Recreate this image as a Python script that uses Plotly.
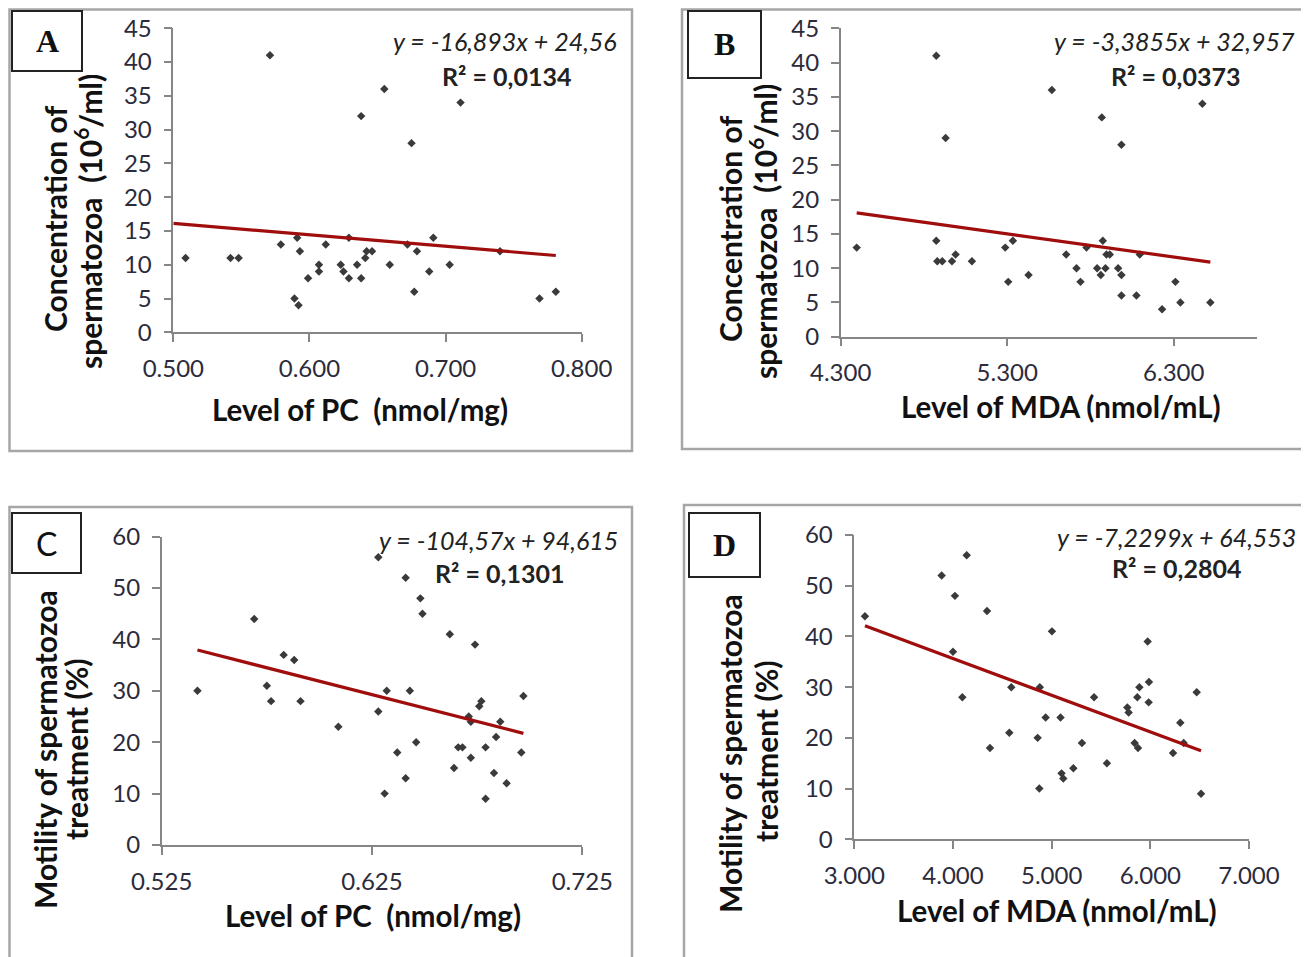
import plotly.graph_objects as go

# page body has a default 8px margin; the figure is sized so that it fills the window
OFF = 8
W, H = 1309 - OFF, 957 - OFF

# ---------------- data ----------------
A_x = [0.509, 0.542, 0.548, 0.571, 0.579, 0.591, 0.593, 0.589, 0.592, 0.599, 0.607, 0.607,
       0.612, 0.623, 0.625, 0.629, 0.629, 0.635, 0.638, 0.638, 0.641, 0.642, 0.646, 0.655,
       0.659, 0.672, 0.675, 0.677, 0.679, 0.688, 0.691, 0.703, 0.711, 0.740, 0.769, 0.781]
A_y = [11, 11, 11, 41, 13, 14, 12, 5, 4, 8, 10, 9, 13, 10, 9, 14, 8, 10, 32, 8, 11, 12, 12, 36,
       10, 13, 28, 6, 12, 9, 14, 10, 34, 12, 5, 6]

B_x = [4.396, 4.874, 4.930, 4.874, 4.880, 4.910, 4.968, 4.990, 5.088, 5.288, 5.306, 5.334,
       5.428, 5.568, 5.654, 5.716, 5.740, 5.776, 5.840, 5.862, 5.868, 5.874, 5.890, 5.896,
       5.916, 5.966, 5.986, 5.986, 5.986, 6.076, 6.096, 6.230, 6.310, 6.340, 6.472, 6.520]
B_y = [13, 41, 29, 14, 11, 11, 11, 12, 11, 13, 8, 14, 9, 36, 12, 10, 8, 13, 10, 9, 32, 14, 10, 12,
       12, 10, 9, 6, 28, 6, 12, 4, 8, 5, 34, 5]

C_x = [0.542, 0.569, 0.575, 0.577, 0.583, 0.588, 0.591, 0.609, 0.628, 0.628, 0.631, 0.632,
       0.637, 0.641, 0.641, 0.643, 0.646, 0.648, 0.649, 0.662, 0.664, 0.666, 0.668, 0.671,
       0.672, 0.672, 0.674, 0.676, 0.677, 0.679, 0.679, 0.683, 0.684, 0.686, 0.689, 0.696, 0.697]
C_y = [30, 44, 31, 28, 37, 36, 28, 23, 56, 26, 10, 30, 18, 52, 13, 30, 20, 48, 45, 41, 15, 19, 19,
       25, 24, 17, 39, 27, 28, 19, 9, 14, 21, 24, 12, 18, 29]

D_x = [3.108, 3.885, 4.020, 4.139, 4.000, 4.095, 4.345, 4.375, 4.571, 4.591, 4.858, 4.875,
       4.880, 4.939, 5.003, 5.090, 5.100, 5.118, 5.220, 5.307, 5.430, 5.560, 5.767, 5.780,
       5.841, 5.875, 5.868, 5.889, 5.973, 5.986, 5.983, 6.230, 6.304, 6.338, 6.470, 6.514]
D_y = [44, 52, 48, 56, 37, 28, 45, 18, 21, 30, 20, 10, 30, 24, 41, 24, 13, 12, 14, 19, 28, 15, 26,
       25, 19, 18, 28, 30, 39, 31, 27, 17, 23, 19, 29, 9]

# linear trend (slope, intercept) and its x extent
trend_coef = {"A": (-16.893, 24.56), "B": (-3.3855, 32.957),
              "C": (-104.57, 94.615), "D": (-7.2299, 64.553)}
trend_x = {"A": [0.500, 0.781], "B": [4.396, 6.520],
           "C": [0.542, 0.697], "D": [3.108, 6.514]}
equations = {"A": "y = -16,893x + 24,56", "B": "y = -3,3855x + 32,957",
             "C": "y = -104,57x + 94,615", "D": "y = -7,2299x + 64,553"}
r2_text = {"A": "R² = 0,0134", "B": "R² = 0,0373", "C": "R² = 0,1301", "D": "R² = 0,2804"}

x_ranges = {"A": [0.5, 0.8], "B": [4.3, 6.8], "C": [0.525, 0.725], "D": [3.0, 7.0]}
x_dtick = {"A": 0.1, "B": 1.0, "C": 0.1, "D": 1.0}
y_ranges = {"A": [0, 45], "B": [0, 45], "C": [0, 60], "D": [0, 60]}
y_dtick = {"A": 5, "B": 5, "C": 10, "D": 10}

y_title_lines = {"A": ["Concentration of", "spermatozoa  (10<sup>6</sup>/ml)"],
                 "B": ["Concentration of", "spermatozoa  (10<sup>6</sup>/ml)"],
                 "C": ["Motility of spermatozoa", "treatment (%)"],
                 "D": ["Motility of spermatozoa", "treatment (%)"]}
x_titles = {"A": "Level of PC  (nmol/mg)", "B": "Level of MDA (nmol/mL)",
            "C": "Level of PC  (nmol/mg)", "D": "Level of MDA (nmol/mL)"}

data = {"A": (A_x, A_y), "B": (B_x, B_y), "C": (C_x, C_y), "D": (D_x, D_y)}

# ---------------- layout geometry (window pixels) ----------------
plot_px = {  # x0, x1, ytop, ybottom
    "A": (173.3, 581.7, 28.3, 332.3),
    "B": (840.7, 1257.0, 28.3, 336.7),
    "C": (161.7, 582.3, 536.7, 845.0),
    "D": (854.3, 1249.0, 535.0, 839.3),
}
frame_px = {"A": (9.5, 9.5, 632, 451), "B": (682, 9.5, 1307, 449),
            "C": (9.5, 507, 632, 962), "D": (684, 505, 1314, 962)}
label_px = {"A": (12, 11, 82, 71), "B": (688, 11, 761, 78),
            "C": (12, 513, 81, 573), "D": (689, 513, 760, 577)}
ytitle_pos = {"A": [(55, 219), (88, 222)], "B": [(730, 229), (763, 232)],
              "C": [(45, 750), (76, 750)], "D": [(730, 754), (766, 752)]}
xtitle_pos = {"A": (360, 410), "B": (1061, 406), "C": (373, 915), "D": (1057, 910)}
eq_pos = {"A": (505, 41), "B": (1174, 41), "C": (498, 540), "D": (1176, 537)}
r2_pos = {"A": (506, 76), "B": (1175, 76), "C": (499, 573), "D": (1176, 568)}


def px(x):
    return (x - OFF) / W


def py(y):
    return 1 - (y - OFF) / H


AXIS_COLOR = "#868686"
TICK_FONT = dict(family="Lato", size=24, color="#2b2b3b")
XTITLE_FONT = dict(family="Lato", size=29.5, color="#111111")
YTITLE_FONT = dict(family="Lato", size=30, color="#111111")
EQ_FONT = dict(family="Lato", size=25, color="#222222")

fig = go.Figure()
layout = dict(width=W, height=H, margin=dict(l=0, r=0, t=0, b=0, pad=0, autoexpand=False),
              paper_bgcolor="white", plot_bgcolor="white", showlegend=False)
annotations = []
shapes = []

for i, k in enumerate(["A", "B", "C", "D"]):
    n = "" if i == 0 else str(i + 1)
    xa, ya = "x" + n, "y" + n
    xs, ys = data[k]
    fig.add_trace(go.Scatter(x=xs, y=ys, mode="markers", xaxis=xa, yaxis=ya,
                             marker=dict(symbol="diamond", size=6.5, color="#3a3a3a")))
    m, b = trend_coef[k]
    tx = trend_x[k]
    fig.add_trace(go.Scatter(x=tx, y=[m * v + b for v in tx], mode="lines", xaxis=xa, yaxis=ya,
                             line=dict(color="#a00d0d", width=3.2)))
    x0, x1, yt, yb = plot_px[k]
    layout["xaxis" + n] = dict(domain=[px(x0), px(x1)], range=x_ranges[k], anchor=ya,
                               automargin=False,
                               tick0=x_ranges[k][0], dtick=x_dtick[k], tickformat=".3f",
                               showgrid=False, zeroline=False, showline=True,
                               linecolor=AXIS_COLOR, linewidth=1.5, ticks="outside",
                               ticklen=8, tickcolor=AXIS_COLOR, tickwidth=1.5,
                               tickfont=TICK_FONT, ticklabelstandoff=6)
    layout["yaxis" + n] = dict(domain=[py(yb), py(yt)], range=y_ranges[k], anchor=xa,
                               automargin=False,
                               dtick=y_dtick[k], showgrid=False, zeroline=False, showline=True,
                               linecolor=AXIS_COLOR, linewidth=1.5, ticks="outside",
                               ticklen=8, tickcolor=AXIS_COLOR, tickwidth=1.5,
                               tickfont=TICK_FONT, ticklabelstandoff=7)
    # frames
    fx0, fy0, fx1, fy1 = frame_px[k]
    shapes.append(dict(type="rect", xref="paper", yref="paper", x0=px(fx0), x1=px(fx1),
                       y0=py(fy1), y1=py(fy0), line=dict(color="#a6a6a6", width=2.5)))
    lx0, ly0, lx1, ly1 = label_px[k]
    shapes.append(dict(type="rect", xref="paper", yref="paper", x0=px(lx0), x1=px(lx1),
                       y0=py(ly1), y1=py(ly0), line=dict(color="#222222", width=2)))
    lab_font = (dict(family="Lato", size=32, color="#111111") if k == "C"
                else dict(family="Liberation Serif", size=32, color="#111111"))
    annotations.append(dict(text=("<b>%s</b>" % k) if k != "C" else k, xref="paper", yref="paper",
                            x=px((lx0 + lx1) / 2), y=py((ly0 + ly1) / 2),
                            xanchor="center", yanchor="middle", showarrow=False, font=lab_font))
    for line_text, (tx_, ty_) in zip(y_title_lines[k], ytitle_pos[k]):
        annotations.append(dict(text="<b>%s</b>" % line_text, xref="paper", yref="paper",
                                x=px(tx_), y=py(ty_), textangle=-90,
                                xanchor="center", yanchor="middle", showarrow=False,
                                font=YTITLE_FONT))
    annotations.append(dict(text="<b>%s</b>" % x_titles[k], xref="paper", yref="paper",
                            x=px(xtitle_pos[k][0]), y=py(xtitle_pos[k][1]),
                            xanchor="center", yanchor="middle", showarrow=False, font=XTITLE_FONT))
    annotations.append(dict(text="<i>%s</i>" % equations[k], xref="paper", yref="paper",
                            x=px(eq_pos[k][0]), y=py(eq_pos[k][1]),
                            xanchor="center", yanchor="middle", showarrow=False, font=EQ_FONT))
    annotations.append(dict(text="<b>%s</b>" % r2_text[k], xref="paper", yref="paper",
                            x=px(r2_pos[k][0]), y=py(r2_pos[k][1]),
                            xanchor="center", yanchor="middle", showarrow=False, font=EQ_FONT))

layout["annotations"] = annotations
layout["shapes"] = shapes
fig.update_layout(**layout)
fig.write_html("out.html")
